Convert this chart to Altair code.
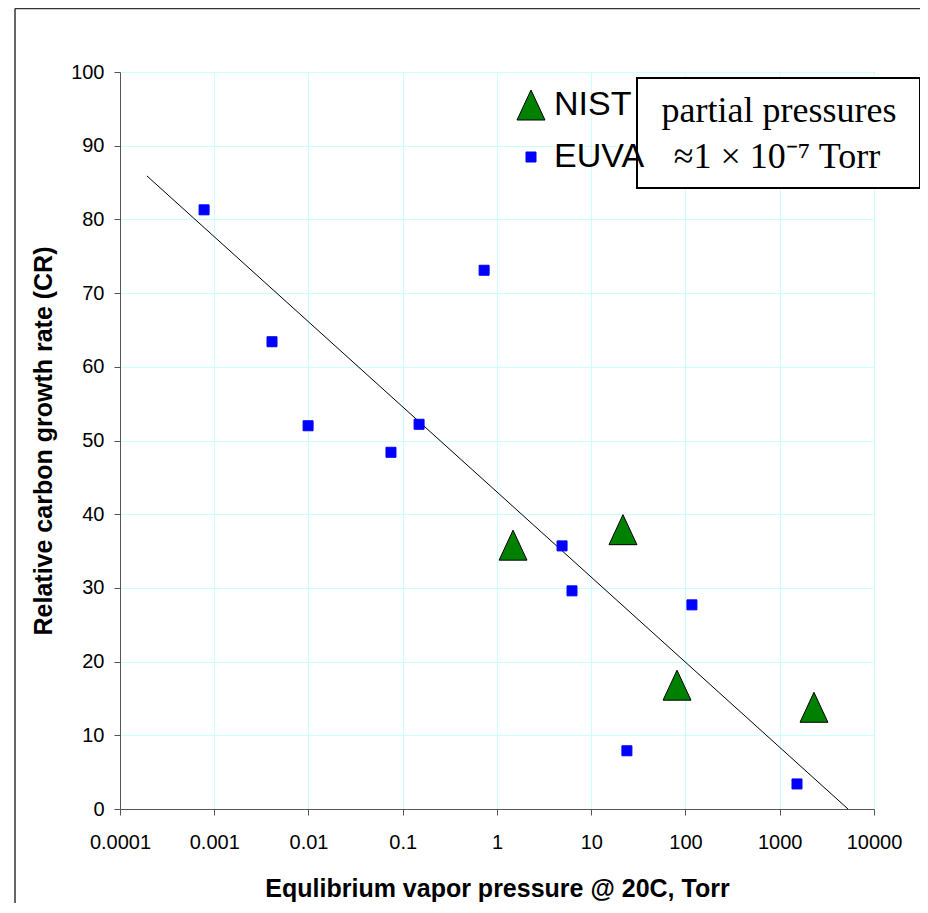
import altair as alt
import pandas as pd

# ---- data ----
euva_pressure = [0.00078, 0.0041, 0.0099, 0.075, 0.149, 0.73, 4.9, 6.25, 23.9, 117, 1524]
euva_cr = [81.3, 63.4, 52.0, 48.4, 52.2, 73.1, 35.7, 29.6, 7.9, 27.7, 3.4]

nist_pressure = [1.48, 21.7, 81.3, 2307]
nist_cr = [35.8, 37.9, 16.8, 13.8]

trend_pressure = [0.000193, 5300]
trend_cr = [85.9, 0.0]

series_names = ["NIST", "EUVA"]
x_ticks = [0.0001, 0.001, 0.01, 0.1, 1, 10, 100, 1000, 10000]
y_ticks = [0, 10, 20, 30, 40, 50, 60, 70, 80, 90, 100]
note_lines = ["partial pressures", "≈1 × 10⁻⁷ Torr"]
x_title = "Equlibrium vapor pressure @ 20C, Torr"
y_title = "Relative carbon growth rate (CR)"

points = pd.DataFrame({
    "p": nist_pressure + euva_pressure,
    "cr": nist_cr + euva_cr,
    "series": ["NIST"] * len(nist_pressure) + ["EUVA"] * len(euva_pressure),
})
trend = pd.DataFrame({"p": trend_pressure, "cr": trend_cr})
one = pd.DataFrame({"k": [0]})

W, H = 754, 737
SANS = "Liberation Sans"
SERIF = "Liberation Serif"

xscale = alt.Scale(type="log", domain=[0.0001, 10000], nice=False)
yscale = alt.Scale(domain=[0, 100], nice=False)

xaxis = alt.Axis(values=x_ticks, format="~g", title=x_title,
                 labelFont=SANS, labelFontSize=20, labelColor="black",
                 titleFont=SANS, titleFontSize=25, titleFontWeight="bold", titleColor="black",
                 titlePadding=24, labelPadding=17, tickSize=6,
                 domainColor="#555555", tickColor="#555555",
                 gridColor="#ccffff", gridWidth=1, labelFlush=False, labelOverlap=False)
yaxis = alt.Axis(values=y_ticks, title=y_title,
                 labelFont=SANS, labelFontSize=20, labelColor="black",
                 titleFont=SANS, titleFontSize=25, titleFontWeight="bold", titleColor="black",
                 titlePadding=14, labelPadding=10, tickSize=6,
                 domainColor="#555555", tickColor="#555555",
                 gridColor="#ccffff", gridWidth=1)

tri_path = "M-0.93,1L0,-1L0.93,1Z"
leg = alt.Legend(title=None, orient="none", legendX=394, legendY=16,
                 labelFont=SANS, labelFontSize=34, labelColor="black",
                 rowPadding=18, labelOffset=6, symbolStrokeWidth=1, padding=0)

frame_top = alt.Chart(one).mark_rule(color="#333333", strokeWidth=1.5).encode(
    x=alt.value(-105), x2=alt.value(1400), y=alt.value(-63.5))
frame_left = alt.Chart(one).mark_rule(color="#333333", strokeWidth=1.5).encode(
    x=alt.value(-105), y=alt.value(-63.5), y2=alt.value(1400))

trend_line = alt.Chart(trend).mark_line(color="black", strokeWidth=1).encode(
    x=alt.X("p:Q", scale=xscale, axis=xaxis),
    y=alt.Y("cr:Q", scale=yscale, axis=yaxis),
)

pts = alt.Chart(points).mark_point(filled=True, opacity=1, strokeWidth=1).encode(
    x=alt.X("p:Q", scale=xscale, axis=xaxis),
    y=alt.Y("cr:Q", scale=yscale, axis=yaxis),
    color=alt.Color("series:N", scale=alt.Scale(domain=series_names, range=["#008000", "#0000ff"]), legend=leg),
    shape=alt.Shape("series:N", scale=alt.Scale(domain=series_names, range=[tri_path, "square"]), legend=leg),
    size=alt.Size("series:N", scale=alt.Scale(domain=series_names, range=[900, 100]), legend=leg),
    stroke=alt.Stroke("series:N", scale=alt.Scale(domain=series_names, range=["black", "#0000ff"]), legend=leg),
)

note_box = alt.Chart(one).mark_rect(fill="white", stroke="black", strokeWidth=2).encode(
    x=alt.value(517), x2=alt.value(800), y=alt.value(6), y2=alt.value(116))
note1 = alt.Chart(one).mark_text(font=SERIF, fontSize=36, color="black", align="center",
                                 baseline="alphabetic", text=note_lines[0]).encode(
    x=alt.value(659), y=alt.value(50))
note2 = alt.Chart(one).mark_text(font=SERIF, fontSize=36, color="black", align="center",
                                 baseline="alphabetic", text=note_lines[1]).encode(
    x=alt.value(657), y=alt.value(96))

chart = alt.layer(frame_top, frame_left, trend_line, pts, note_box, note1, note2).properties(
    width=W, height=H,
    autosize=alt.AutoSizeParams(type="none"),
    padding={"left": 112, "top": 64, "right": 46, "bottom": 94},
).configure_view(stroke=None).configure(background="white")

chart.save("out.html", embed_options={"renderer": "svg", "actions": False})
